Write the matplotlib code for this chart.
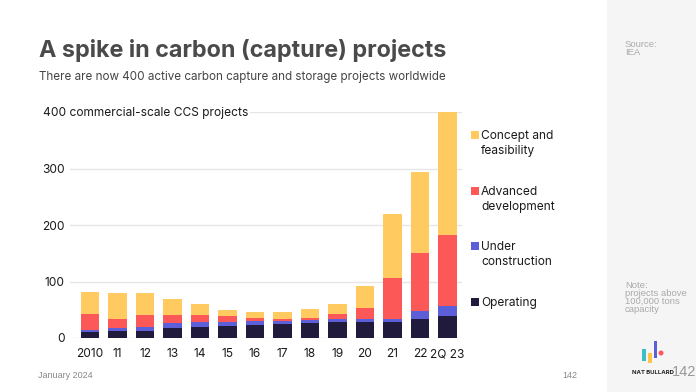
import matplotlib
matplotlib.use("Agg")
import matplotlib.pyplot as plt
import numpy as np

years = ["2010", "11", "12", "13", "14", "15", "16", "17", "18", "19", "20", "21", "22", "2Q 23"]
operating = [11, 12, 12, 17, 19, 21, 23, 25, 26, 28, 28, 28, 34, 39]
under_construction = [4, 6, 8, 9, 9, 7, 7, 5, 6, 5, 5, 6, 13, 18]
advanced = [28, 16, 21, 15, 13, 11, 6, 4, 3, 10, 21, 72, 103, 125]
concept = [38, 45, 39, 29, 20, 11, 10, 12, 17, 18, 39, 114, 144, 218]

series_names = ["Concept and\nfeasibility", "Advanced\ndevelopment", "Under\nconstruction", "Operating"]
colors = {"concept": "#FFCA5F", "advanced": "#FD5858", "uc": "#5C5FD8", "op": "#201A3D"}
yticks = [0, 100, 200, 300]

plt.rcParams['font.family'] = ['Inter', 'DejaVu Sans']

W, H = 696, 392
fig = plt.figure(figsize=(W / 100, H / 100), dpi=100)
fig.patch.set_facecolor("white")

def fx(px):
    return px / W

def fy(py):
    return 1 - py / H

FS = 8.6

# right grey panel
fig.patches.append(plt.Rectangle((fx(607), 0), 1 - fx(607), 1, transform=fig.transFigure,
                                 facecolor="#F5F5F5", edgecolor="none", zorder=0))

ax = fig.add_axes([fx(70), fy(338), fx(462) - fx(70), fy(112.3) - fy(338)])
ax.set_facecolor("none")
x = np.arange(len(years))
w = 0.67
op = np.array(operating)
uc = np.array(under_construction)
ad = np.array(advanced)
co = np.array(concept)
ax.bar(x, op, w, color=colors["op"], zorder=3)
ax.bar(x, uc, w, bottom=op, color=colors["uc"], zorder=3)
ax.bar(x, ad, w, bottom=op + uc, color=colors["advanced"], zorder=3)
ax.bar(x, co, w, bottom=op + uc + ad, color=colors["concept"], zorder=3)

ax.set_xlim(-0.735, 13.53)
ax.set_ylim(0, 400)
for s in ax.spines.values():
    s.set_visible(False)
for t in yticks:
    ax.axhline(t, color="#E6E6E6", lw=1, zorder=1)
ax.axhline(400, xmin=(250 - 70) / (462 - 70), xmax=1, color="#E6E6E6", lw=1, zorder=1)
ax.set_yticks(yticks)
ax.set_yticklabels([str(t) for t in yticks], fontsize=FS, color="#1a1a1a")
ax.set_xticks(x)
ax.set_xticklabels(years, fontsize=FS, color="#1a1a1a")
ax.tick_params(axis="both", length=0)
ax.tick_params(axis="y", pad=4)
ax.tick_params(axis="x", pad=7.5)

fig.text(fx(43), fy(113), "400 commercial-scale CCS projects", fontsize=FS, color="#1a1a1a",
         va="center", ha="left")

# title & subtitle
fig.text(fx(39), fy(51), "A spike in carbon (capture) projects", fontsize=16.8, fontweight="bold",
         color="#4A4A4A", va="center", ha="left")
fig.text(fx(39), fy(77), "There are now 400 active carbon capture and storage projects worldwide",
         fontsize=8.4, color="#444444", va="center", ha="left")

# legend
leg_items = [(series_names[0], colors["concept"], 135),
             (series_names[1], colors["advanced"], 191),
             (series_names[2], colors["uc"], 246),
             (series_names[3], colors["op"], 302)]
for label, c, py in leg_items:
    fig.patches.append(plt.Rectangle((fx(471), fy(py + 4)), fx(8), 8 / H, transform=fig.transFigure,
                                     facecolor=c, edgecolor="none"))
    fig.text(fx(481), fy(py - 5), label, fontsize=FS, color="#1a1a1a", va="top", ha="left",
             linespacing=1.3)

# side notes
side_font = ['Liberation Sans', 'DejaVu Sans']
fig.text(fx(625), fy(40), "Source:\nIEA", fontsize=6.8, color="#AAAAAA", va="top", ha="left",
         family=side_font, linespacing=0.9)
fig.text(fx(625), fy(281), "Note:\nprojects above\n100,000 tons\ncapacity", fontsize=6.8,
         color="#AAAAAA", va="top", ha="left", linespacing=0.85, family=side_font)

# footer
fig.text(fx(38), fy(375), "January 2024", fontsize=6.5, color="#888888", va="center", ha="left",
         family=side_font)
fig.text(fx(562), fy(375), "142", fontsize=6.5, color="#888888", va="center", ha="left",
         family=side_font)
fig.text(fx(632), fy(373), "NAT BULLARD", fontsize=4.3, fontweight="bold", color="#222222",
         va="center", ha="left")
fig.text(fx(672), fy(372), "142", fontsize=10.5, color="#999999", va="center", ha="left",
         family=side_font)

# logo bars
logo = [(642, 349, 361, "#3DBFC8"), (648, 353, 363, "#FFC24B"), (653.5, 341, 358, "#5C5FD8")]
for lx, top, bot, c in logo:
    fig.patches.append(plt.Rectangle((fx(lx), fy(bot)), fx(3.6), (bot - top) / H,
                                     transform=fig.transFigure, facecolor=c, edgecolor="none"))
fig.patches.append(matplotlib.patches.Ellipse((fx(661), fy(353)), 5 / W, 5 / H,
                                              transform=fig.transFigure,
                                              facecolor="#FD5858", edgecolor="none"))

fig.savefig("out.png", dpi=100)
